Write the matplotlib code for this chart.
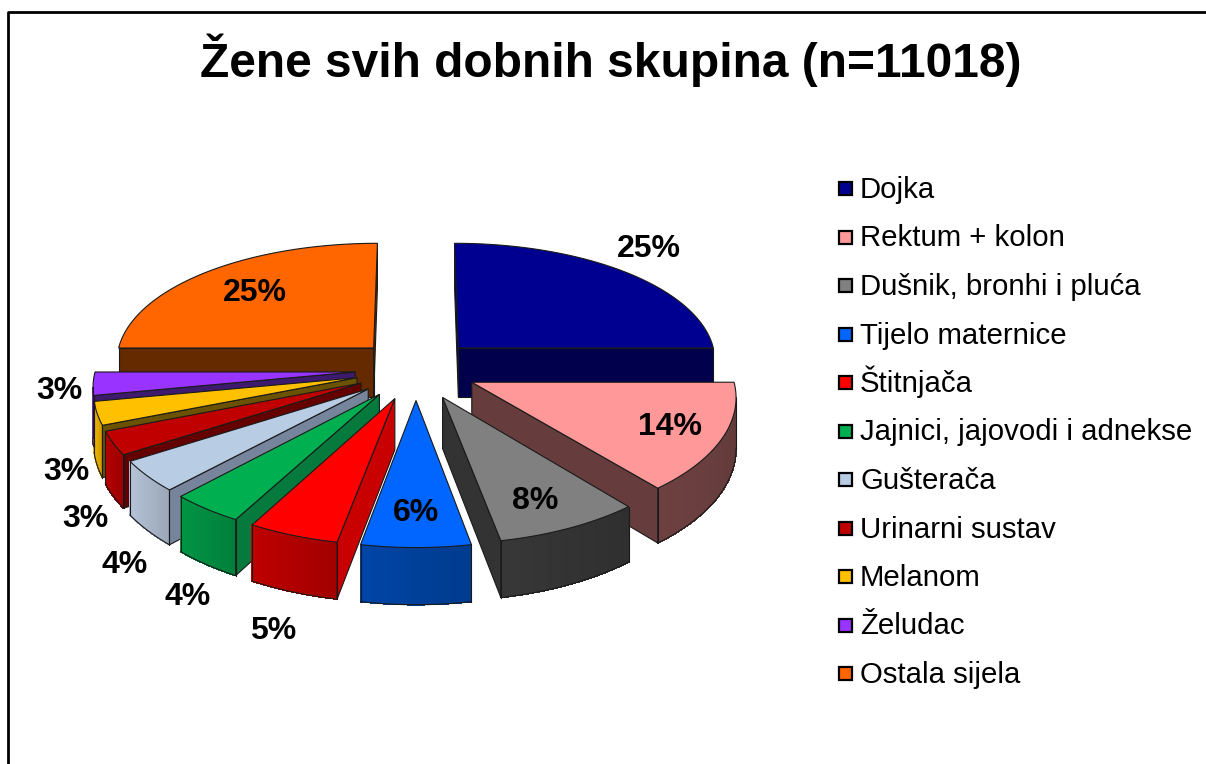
import numpy as np
import matplotlib
matplotlib.use('Agg')
import matplotlib.pyplot as plt
from matplotlib.patches import Rectangle

plt.rcParams['font.family'] = ['Liberation Sans', 'DejaVu Sans']

names = ['Dojka', 'Rektum + kolon', 'Dušnik, bronhi i pluća', 'Tijelo maternice',
         'Štitnjača', 'Jajnici, jajovodi i adnekse', 'Gušterača', 'Urinarni sustav',
         'Melanom', 'Želudac', 'Ostala sijela']
values = [25, 14, 8, 6, 5, 4, 4, 3, 3, 3, 25]

top_colors = ['#000090', '#ff9999', '#808080', '#0066ff', '#ff0000', '#00b050',
              '#b8cce4', '#c00000', '#ffc000', '#9933ff', '#ff6600']
rim_colors = ['#00004c', '#663c3c', '#333333', '#00409a', '#b00000', '#008a40',
              '#a8b5c8', '#a80000', '#e0a800', '#7030c0', '#a04000']
wall_colors = ['#00004c', '#663c3c', '#333333', '#00409a', '#c80000', '#067a3c',
               '#76859b', '#640000', '#6b5200', '#3c1a6e', '#662a00']

# where the % labels go: radius on the slice and angle nudge in degrees
label_r = [1.255, 0.80, 0.80, 0.79, 1.53, 1.465, 1.43, 1.335, 1.235, 1.125, 0.705]
label_da = [3.4, 0, -2, 0, 5.5, 11.5, 16.8, 19, 18.4, 2.3, 0]

# projection of the tilted pie, fitted to the picture (pixels)
CX, CY = 416, 369.1
AX_X, AX_Y, AX_Q = 259.5, 121.8, 2.2
PERSP = 0.1
THICK = 50
EXPLODE_X, EXPLODE_Y = 0.235, 0.25


def project(X, Y, z=0):
    s = 1 / (1 + PERSP * Y)
    v = Y * s
    return CX + AX_X * X * s, CY - AX_Y * v + AX_Q * v * v + z * THICK * s


def quad_of(a, b):
    quad = [project(*a), project(*b), project(b[0], b[1], 1), project(a[0], a[1], 1)]
    xs = [q[0] for q in quad]
    ys = [q[1] for q in quad]
    area = sum(xs[i] * ys[(i + 1) % 4] - xs[(i + 1) % 4] * ys[i] for i in range(4))
    # a, b run clockwise round the slice, so a face that looks at us has area < 0
    return xs, ys, area < 0


def shade(color, f):
    rgb = np.array(matplotlib.colors.to_rgb(color)) * f
    return tuple(np.clip(rgb, 0, 1))


fig = plt.figure(figsize=(12.06, 7.64), dpi=100)
ax = fig.add_axes([0, 0, 1, 1])
ax.set_xlim(0, 1206)
ax.set_ylim(764, 0)
ax.axis('off')

# frame of the slide
ax.plot([8, 8, 1206], [764, 12, 12], color='black', lw=2)

total = sum(values)
edges = 90 - 360 * np.concatenate([[0], np.cumsum(values)]) / total
mids = (edges[:-1] + edges[1:]) / 2
EDGE = '#1a1a1a'

order = sorted(range(len(values)), key=lambda i: -np.sin(np.radians(mids[i])))
for i in order:
    m = np.radians(mids[i])
    ox, oy = EXPLODE_X * np.cos(m), EXPLODE_Y * np.sin(m)
    t = np.radians(np.linspace(edges[i], edges[i + 1], 80))
    arc = [(ox + np.cos(a), oy + np.sin(a)) for a in t]
    apex = (ox, oy)

    # rim in thin strips so it gets a gradient, lighter to the left
    seen = []
    for k in range(len(arc) - 1):
        xs, ys, front = quad_of(arc[k], arc[k + 1])
        if front:
            seen.append(k)
            c = shade(rim_colors[i], 0.92 + 0.16 * k / (len(arc) - 2))
            ax.fill(xs, ys, facecolor=c, edgecolor=c, linewidth=0.5, antialiased=False)
    if seen:
        bot = [project(p[0], p[1], 1) for p in arc[seen[0]:seen[-1] + 2]]
        ax.plot([b[0] for b in bot], [b[1] for b in bot], color=EDGE, lw=0.8)
        for k in (seen[0], seen[-1] + 1):
            a, b = project(*arc[k]), project(arc[k][0], arc[k][1], 1)
            ax.plot([a[0], b[0]], [a[1], b[1]], color=EDGE, lw=0.8)

    for a, b in ((apex, arc[0]), (arc[-1], apex)):
        xs, ys, front = quad_of(a, b)
        if front:
            ax.fill(xs, ys, facecolor=wall_colors[i], edgecolor=EDGE, linewidth=0.8)

    xs, ys = zip(*[project(*p) for p in [apex] + arc])
    ax.fill(xs, ys, facecolor=top_colors[i], edgecolor=EDGE, linewidth=0.8)

for i in range(len(values)):
    m = np.radians(mids[i])
    a = np.radians(mids[i] + label_da[i])
    X = EXPLODE_X * np.cos(m) + label_r[i] * np.cos(a)
    Y = EXPLODE_Y * np.sin(m) + label_r[i] * np.sin(a)
    px, py = project(X, Y)
    ax.text(px, py, '%d%%' % values[i], ha='center', va='center',
            fontsize=23, fontweight='bold', color='black')

ax.text(611, 60, 'Žene svih dobnih skupina (n=11018)', ha='center', va='center',
        fontsize=34.5, fontweight='bold', color='black')

# legend by hand, matplotlib's own spaces the rows unevenly with the accents
for i in range(len(names)):
    ax.add_patch(Rectangle((839, 182 + 48.5 * i), 13, 13, facecolor=top_colors[i],
                           edgecolor='black', linewidth=1.6))
    ax.text(860, 198 + 48.5 * i, names[i], ha='left', va='baseline', fontsize=21.2,
            color='black')

fig.savefig('out.png', dpi=100)
